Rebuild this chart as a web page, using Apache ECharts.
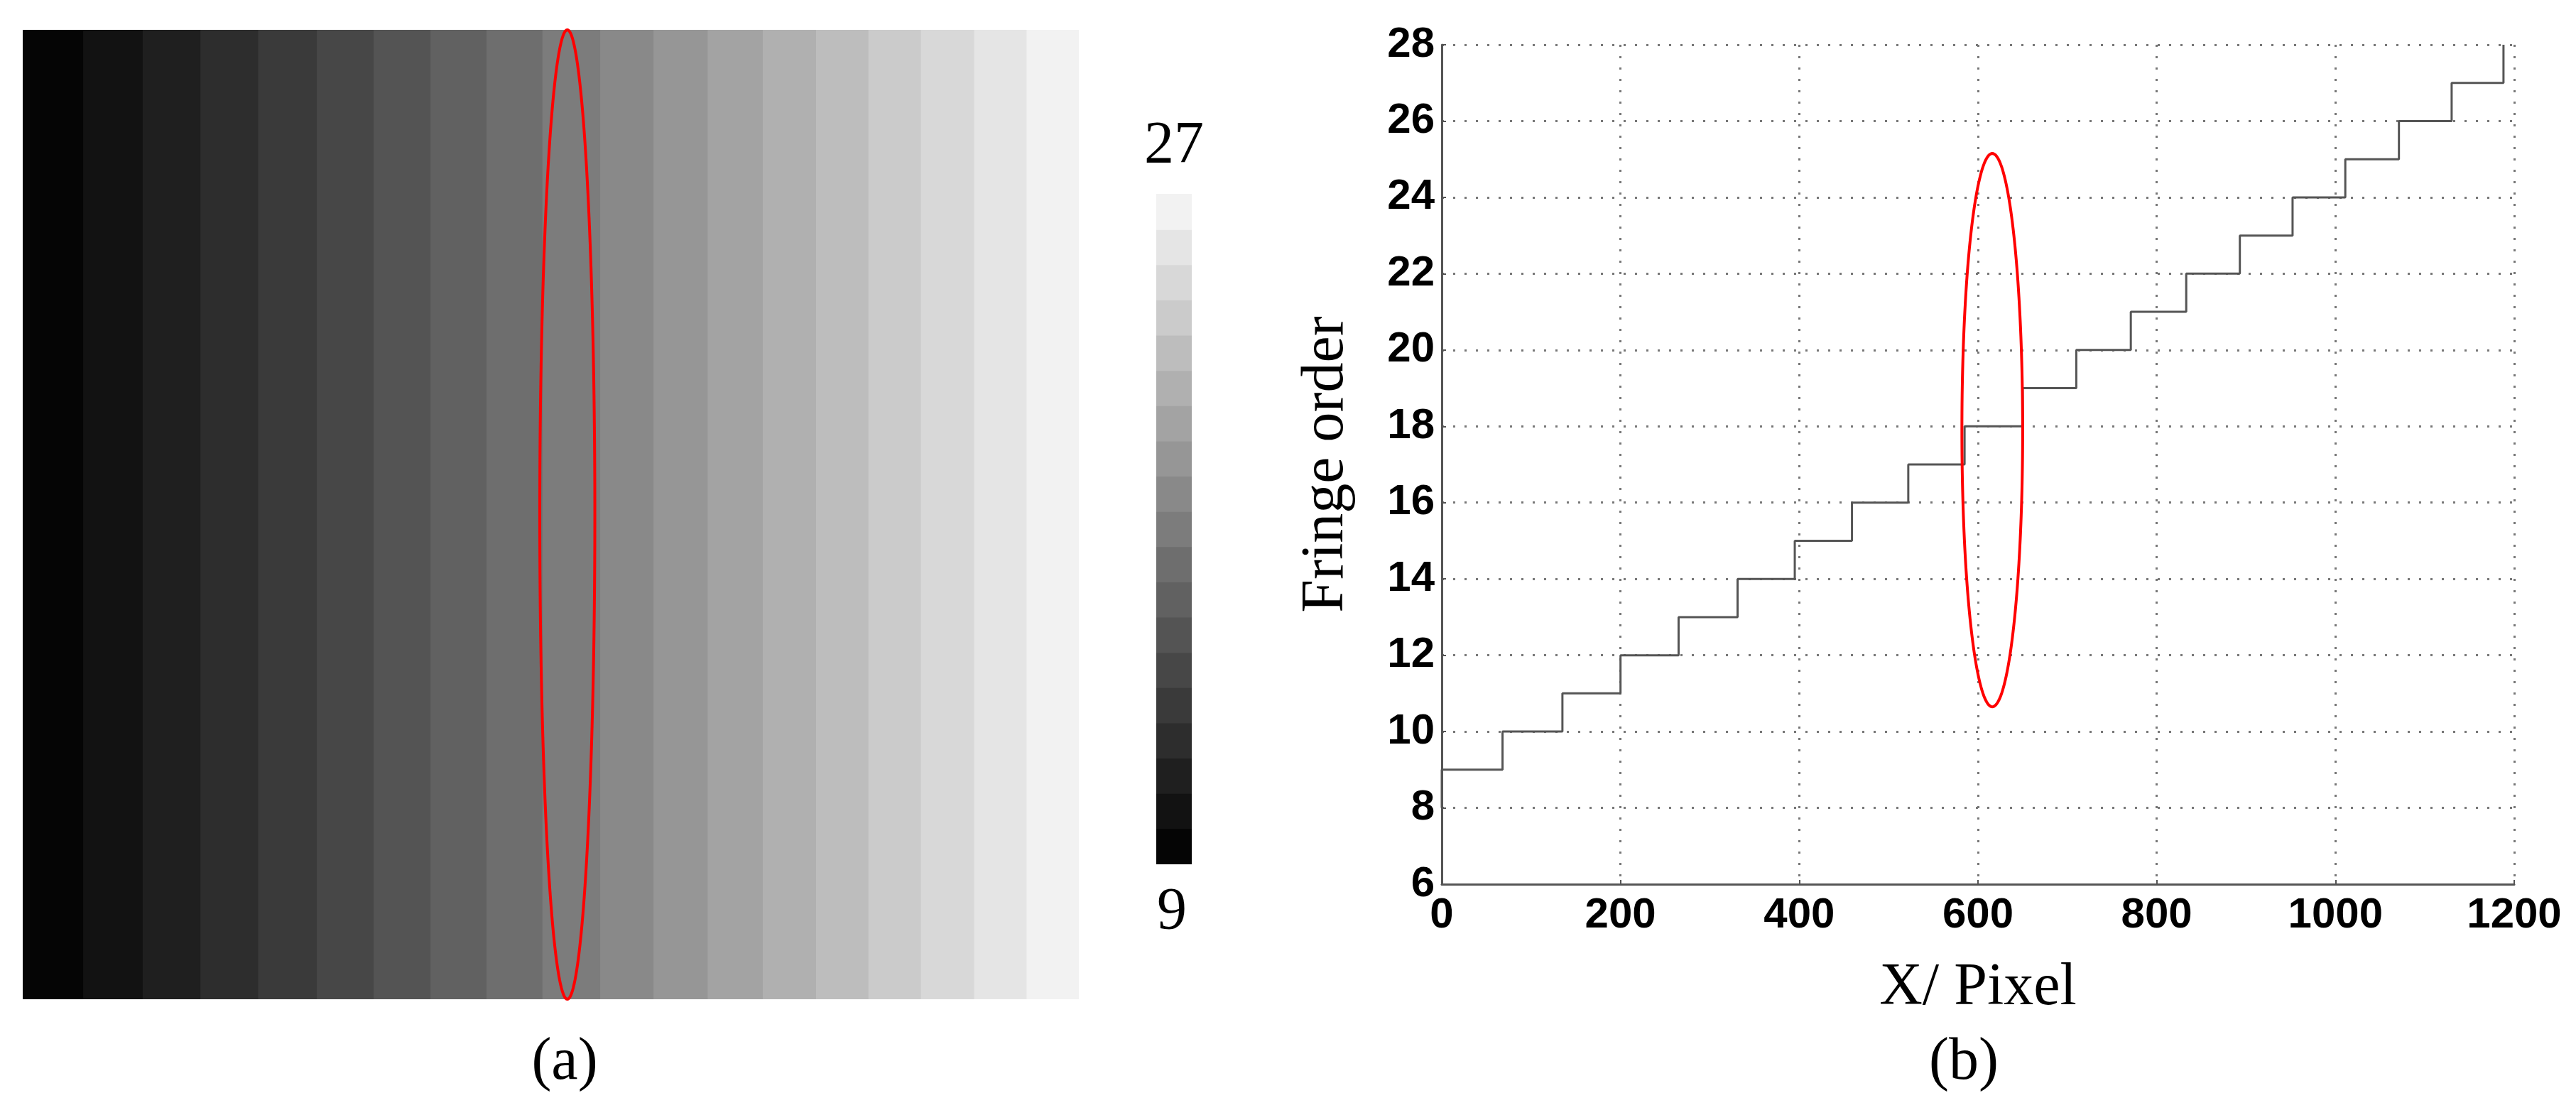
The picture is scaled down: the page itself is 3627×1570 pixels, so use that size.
<!DOCTYPE html>
<html>
<head>
<meta charset="utf-8">
<title>Fringe order</title>
<script src="https://cdn.jsdelivr.net/npm/echarts@6/dist/echarts.min.js"></script>
<style>
  html, body { margin: 0; padding: 0; background: #fff; }
  #chart { width: 3627px; height: 1570px; }
</style>
</head>
<body>
<div id="chart"></div>
<script>
// fringe order and the pixel column where that order starts
const fringeLevels = [8, 9, 10, 11, 12, 13, 14, 15, 16, 17, 18, 19, 20, 21, 22, 23, 24, 25, 26, 27, 28]
const levelStartX = [0, 0, 68, 135, 200, 265, 331, 395, 459, 522, 585, 650, 710, 771, 833, 893, 952, 1011, 1071, 1130, 1188]
const colorbarMin = 9
const colorbarMax = 27

const xTicks = { min: 0, max: 1200, interval: 200 }
const yTicks = { min: 6, max: 28, interval: 2 }

// red marks: [cx, cy, rx, ry] in each panel's data units
const ellipseA = [613, 0.5, 31, 0.5]
const ellipseB = [616, 17.9, 34, 7.25]

const serif = '"Liberation Serif", "Times New Roman", serif'
const sans = '"Liberation Sans", Arial, sans-serif'

// bands of the fringe order image (a)
const bandData = []
for (let i = 0; i < fringeLevels.length - 1; i++) {
  const x0 = levelStartX[i], x1 = levelStartX[i + 1]
  if (x1 > x0) bandData.push([x0, x1, fringeLevels[i]])
}
const colorbarData = fringeLevels
  .filter(v => v >= colorbarMin && v <= colorbarMax)
  .map(v => [v - 0.5, v + 0.5, v])
const stepData = levelStartX.map((x, i) => [x, fringeLevels[i]])

function ellipseItem(params, api) {
  const cx = api.value(0), cy = api.value(1), rx = api.value(2), ry = api.value(3)
  const pts = []
  for (let k = 0; k <= 200; k++) {
    const t = k / 200 * Math.PI * 2
    pts.push(api.coord([cx + rx * Math.cos(t), cy + ry * Math.sin(t)]))
  }
  return {
    type: 'polyline',
    shape: { points: pts },
    style: { fill: null, stroke: '#ff0000', lineWidth: 4 }
  }
}

const hiddenAxis = { show: false, splitLine: { show: false } }

const chart = echarts.init(document.getElementById('chart'))
chart.setOption({
  animation: false,
  backgroundColor: '#fff',
  grid: [
    { left: 32, top: 42, width: 1486, height: 1365, outerBoundsMode: 'none' },
    { left: 1628, top: 273, width: 50, height: 943, outerBoundsMode: 'none' },
    { left: 2030, top: 63, width: 1510, height: 1182, outerBoundsMode: 'none' }
  ],
  xAxis: [
    { ...hiddenAxis, type: 'value', gridIndex: 0, min: 0, max: levelStartX[levelStartX.length - 1] },
    { ...hiddenAxis, type: 'value', gridIndex: 1, min: 0, max: 1 },
    {
      type: 'value', gridIndex: 2,
      min: xTicks.min, max: xTicks.max, interval: xTicks.interval,
      axisLine: { onZero: false, lineStyle: { color: '#555', width: 3 } },
      axisTick: { inside: true, length: 6, lineStyle: { color: '#555', width: 2 } },
      axisLabel: {
        color: '#000', fontSize: 60, fontWeight: 'bold', fontFamily: sans, margin: 14,
        formatter: v => String(v)
      },
      splitLine: { show: true, lineStyle: { color: '#777', width: 3, type: [3, 13] } },
      name: 'X/ Pixel', nameLocation: 'middle', nameGap: 105,
      nameTextStyle: { color: '#000', fontSize: 84, fontFamily: serif }
    }
  ],
  yAxis: [
    { ...hiddenAxis, type: 'value', gridIndex: 0, min: 0, max: 1 },
    { ...hiddenAxis, type: 'value', gridIndex: 1, min: colorbarMin - 0.5, max: colorbarMax + 0.5 },
    {
      type: 'value', gridIndex: 2,
      min: yTicks.min, max: yTicks.max, interval: yTicks.interval,
      axisLine: { show: true, onZero: false, lineStyle: { color: '#555', width: 3 } },
      axisTick: { show: true, inside: true, length: 6, lineStyle: { color: '#555', width: 2 } },
      axisLabel: {
        color: '#000', fontSize: 60, fontWeight: 'bold', fontFamily: sans, margin: 10,
        formatter: v => String(v)
      },
      splitLine: { show: true, lineStyle: { color: '#777', width: 3, type: [3, 13] } },
      name: 'Fringe order', nameLocation: 'middle', nameGap: 120,
      nameTextStyle: { color: '#000', fontSize: 84, fontFamily: serif }
    }
  ],
  visualMap: {
    type: 'continuous', show: false,
    min: colorbarMin, max: colorbarMax, dimension: 2,
    seriesIndex: [0, 1],
    inRange: { color: ['#050505', '#f2f2f2'] }
  },
  graphic: [
    { type: 'text', x: 795, y: 1497, style: { text: '(a)', font: '84px ' + serif, fill: '#000', align: 'center', verticalAlign: 'middle' } },
    { type: 'text', x: 2765, y: 1497, style: { text: '(b)', font: '84px ' + serif, fill: '#000', align: 'center', verticalAlign: 'middle' } },
    { type: 'text', x: 1653, y: 207, style: { text: String(colorbarMax), font: '84px ' + serif, fill: '#000', align: 'center', verticalAlign: 'middle' } },
    { type: 'text', x: 1650, y: 1286, style: { text: String(colorbarMin), font: '84px ' + serif, fill: '#000', align: 'center', verticalAlign: 'middle' } }
  ],
  series: [
    {
      name: 'fringe image', type: 'custom', xAxisIndex: 0, yAxisIndex: 0,
      data: bandData,
      encode: { x: [0, 1] },
      renderItem(params, api) {
        const p0 = api.coord([api.value(0), 1])
        const p1 = api.coord([api.value(1), 0])
        return {
          type: 'rect',
          shape: { x: p0[0], y: p0[1], width: p1[0] - p0[0] + 1, height: p1[1] - p0[1] },
          style: { fill: api.visual('color') }
        }
      }
    },
    {
      name: 'colorbar', type: 'custom', xAxisIndex: 1, yAxisIndex: 1,
      data: colorbarData,
      encode: { y: [0, 1] },
      renderItem(params, api) {
        const p0 = api.coord([0, api.value(1)])
        const p1 = api.coord([1, api.value(0)])
        return {
          type: 'rect',
          shape: { x: p0[0], y: p0[1], width: p1[0] - p0[0], height: p1[1] - p0[1] + 1 },
          style: { fill: api.visual('color') }
        }
      }
    },
    {
      name: 'fringe order', type: 'line', xAxisIndex: 2, yAxisIndex: 2,
      data: stepData,
      step: 'end',
      showSymbol: false,
      lineStyle: { color: '#555', width: 3 }
    },
    {
      name: 'mark a', type: 'custom', xAxisIndex: 0, yAxisIndex: 0, z: 5,
      data: [ellipseA], renderItem: ellipseItem
    },
    {
      name: 'mark b', type: 'custom', xAxisIndex: 2, yAxisIndex: 2, z: 5,
      data: [ellipseB], renderItem: ellipseItem
    }
  ]
})
</script>
</body>
</html>
